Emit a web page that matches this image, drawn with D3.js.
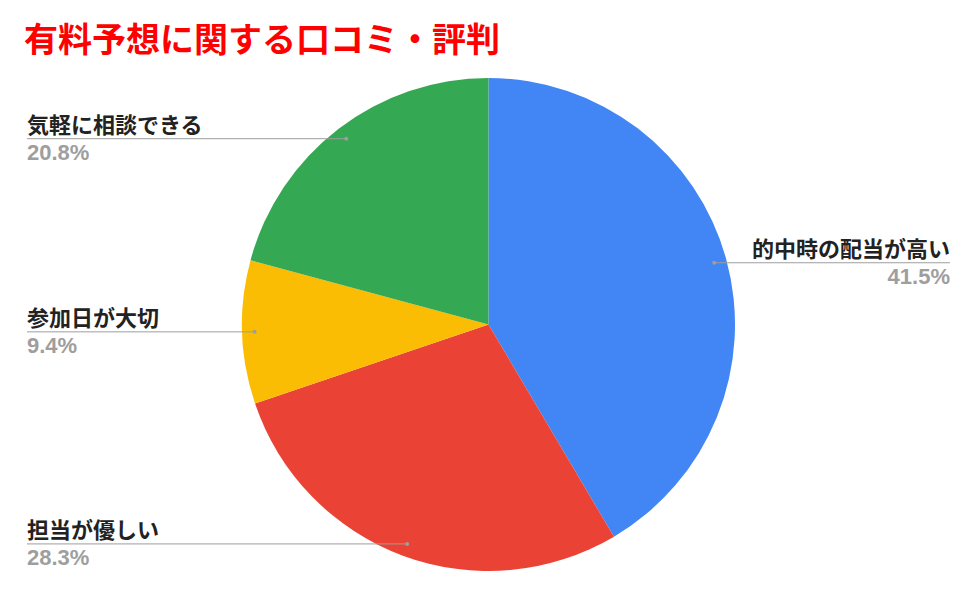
<!DOCTYPE html>
<html>
<head>
<meta charset="utf-8">
<script src="https://cdn.jsdelivr.net/npm/d3@7"></script>
<style>
  html, body { margin: 0; padding: 0; background: #fff; }
  svg { display: block; font-family: Roboto, "Noto Sans CJK JP", sans-serif; }
</style>
</head>
<body>
<svg id="chart" width="976" height="591"></svg>
<script>
// --- Data ---
const categories = ["的中時の配当が高い", "担当が優しい", "参加日が大切", "気軽に相談できる"];
const values = [41.5, 28.3, 9.4, 20.8];
const colors = ["#4285f4", "#ea4335", "#fbbc04", "#34a853"];
const titleText = "有料予想に関する口コミ・評判";

const width = 976, height = 591;
const cx = 488.5, cy = 324.5, radius = 246.5;
const dotRadius = 234;

const svg = d3.select("#chart");

// title
svg.append("text")
    .attr("x", 24)
    .attr("y", 52)
    .attr("fill", "#ff0000")
    .attr("font-size", 34)
    .attr("font-weight", "bold")
    .attr("font-family", "'Noto Sans CJK JP', sans-serif")
    .text(titleText);

const pie = d3.pie().sort(null).value(d => d)(values);
const arc = d3.arc().innerRadius(0).outerRadius(radius);

const g = svg.append("g").attr("transform", `translate(${cx},${cy})`);

g.selectAll("path.slice")
    .data(pie)
    .join("path")
    .attr("class", "slice")
    .attr("d", arc)
    .attr("fill", (d, i) => colors[i]);

// leader lines and labels
const labels = svg.append("g");
pie.forEach((d, i) => {
    const mid = (d.startAngle + d.endAngle) / 2;
    const px = cx + dotRadius * Math.sin(mid);
    const py = cy - dotRadius * Math.cos(mid);
    const right = Math.sin(mid) > 0;
    const tx = right ? 950 : 27;

    labels.append("line")
        .attr("x1", px).attr("y1", py)
        .attr("x2", tx).attr("y2", py)
        .attr("stroke", "#9e9e9e")
        .attr("stroke-width", 1);
    labels.append("circle")
        .attr("cx", px).attr("cy", py)
        .attr("r", 2)
        .attr("fill", "#9e9e9e");

    labels.append("text")
        .attr("x", tx)
        .attr("y", py - 6)
        .attr("text-anchor", right ? "end" : "start")
        .attr("font-size", 22)
        .attr("font-weight", "bold")
        .attr("fill", "#222")
        .attr("font-family", "'Noto Sans CJK JP', sans-serif")
        .text(categories[i]);

    labels.append("text")
        .attr("x", tx)
        .attr("y", py + 21)
        .attr("text-anchor", right ? "end" : "start")
        .attr("font-size", 22)
        .attr("font-weight", "bold")
        .attr("fill", "#9e9e9e")
        .attr("font-family", "Arial, 'Liberation Sans', sans-serif")
        .text(values[i].toFixed(1) + "%");
});
</script>
</body>
</html>
